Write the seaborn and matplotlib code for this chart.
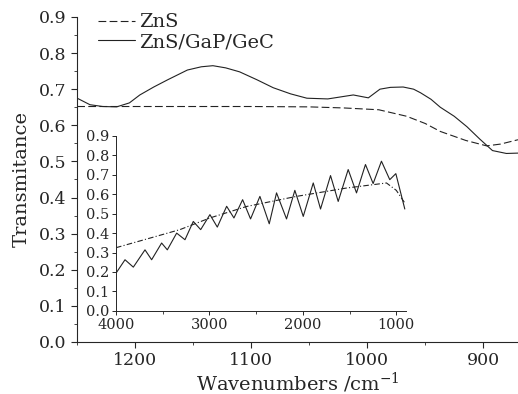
import numpy as np
import pandas as pd
import seaborn as sns
import matplotlib
matplotlib.use('Agg')
import matplotlib.pyplot as plt
from matplotlib.ticker import MultipleLocator, FormatStrFormatter

# main spectrum (narrow range)
zns_wn = [1250, 1200, 1150, 1100, 1050, 1020, 990, 966, 950, 937, 915, 897, 885, 870]
zns_t = [0.652, 0.652, 0.652, 0.652, 0.651, 0.648, 0.643, 0.625, 0.605, 0.583, 0.558, 0.543, 0.548, 0.560]

gec_wn = [1250, 1239, 1228, 1216, 1205, 1196, 1184, 1172, 1155, 1143, 1133, 1122, 1110, 1095,
          1081, 1066, 1052, 1034, 1024, 1012, 999, 989, 980, 969, 960, 954, 945, 937, 925,
          914, 903, 892, 880, 870]
gec_t = [0.675, 0.657, 0.652, 0.651, 0.662, 0.684, 0.706, 0.726, 0.753, 0.762, 0.765, 0.759,
         0.748, 0.726, 0.704, 0.687, 0.675, 0.673, 0.678, 0.684, 0.676, 0.700, 0.705, 0.706,
         0.700, 0.690, 0.672, 0.650, 0.625, 0.596, 0.562, 0.530, 0.522, 0.523]

# inset spectrum (wide range)
in_zns_wn = [4000, 3316, 2995, 2603, 2068, 1533, 1105, 1000, 909]
in_zns_t = [0.325, 0.418, 0.478, 0.537, 0.589, 0.632, 0.658, 0.620, 0.555]

in_gec_wn = [4000, 3904, 3815, 3690, 3619, 3512, 3451, 3351, 3262, 3173, 3094, 2995, 2916,
             2816, 2738, 2645, 2560, 2460, 2360, 2282, 2175, 2086, 1996, 1889, 1811, 1704,
             1622, 1515, 1426, 1330, 1248, 1159, 1070, 1005, 909]
in_gec_t = [0.194, 0.263, 0.225, 0.314, 0.263, 0.349, 0.314, 0.400, 0.366, 0.460, 0.418,
            0.495, 0.431, 0.538, 0.478, 0.572, 0.473, 0.589, 0.448, 0.607, 0.473, 0.620,
            0.486, 0.658, 0.524, 0.696, 0.563, 0.727, 0.607, 0.753, 0.655, 0.770, 0.675,
            0.706, 0.524]

sns.set_style('ticks')
plt.rcParams['font.family'] = ['DejaVu Serif']
plt.rcParams['mathtext.fontset'] = 'dejavuserif'

fig = plt.figure(figsize=(5.18, 3.94), dpi=100)
ax = fig.add_axes([0.149, 0.132, 0.851, 0.825])

lc = '#222222'
sns.lineplot(ax=ax, x=zns_wn, y=zns_t, color=lc, linewidth=0.8,
             label='ZnS', sort=False, estimator=None)
ax.lines[-1].set_dashes([7, 3])
sns.lineplot(ax=ax, x=gec_wn, y=gec_t, color=lc, linewidth=0.8,
             label='ZnS/GaP/GeC', sort=False, estimator=None)

ax.set_xlim(1250, 870)
ax.set_ylim(0, 0.9)
ax.xaxis.set_major_locator(MultipleLocator(100))
ax.xaxis.set_minor_locator(MultipleLocator(50))
ax.yaxis.set_major_locator(MultipleLocator(0.1))
ax.yaxis.set_minor_locator(MultipleLocator(0.05))
ax.yaxis.set_major_formatter(FormatStrFormatter('%.1f'))
ax.tick_params(axis='both', which='major', labelsize=12.5, length=4, width=0.8, direction='out')
ax.tick_params(axis='both', which='minor', length=2, width=0.6, direction='out')
ax.set_xlabel('Wavenumbers /cm$^{-1}$', fontsize=14, labelpad=1)
ax.set_ylabel('Transmitance', fontsize=14, labelpad=6)
for s in ['top', 'right']:
    ax.spines[s].set_visible(False)
for s in ['left', 'bottom']:
    ax.spines[s].set_linewidth(0.8)

leg = ax.legend(loc='upper left', bbox_to_anchor=(0.03, 1.035), frameon=False, fontsize=14,
                handlelength=1.9, handletextpad=0.2, labelspacing=0.1, borderaxespad=0)

# inset
ins = fig.add_axes([0.224, 0.211, 0.56, 0.444])
ins.patch.set_alpha(0)
sns.lineplot(ax=ins, x=in_zns_wn, y=in_zns_t, color=lc, linewidth=0.8,
             sort=False, estimator=None)
ins.lines[-1].set_dashes([5, 2, 1, 2])
sns.lineplot(ax=ins, x=in_gec_wn, y=in_gec_t, color=lc, linewidth=0.8,
             sort=False, estimator=None)
ins.set_xlim(4000, 895)
ins.set_ylim(0, 0.9)
ins.xaxis.set_major_locator(MultipleLocator(1000))
ins.xaxis.set_minor_locator(MultipleLocator(500))
ins.yaxis.set_major_locator(MultipleLocator(0.1))
ins.yaxis.set_major_formatter(FormatStrFormatter('%.1f'))
ins.tick_params(axis='both', which='major', labelsize=10.5, length=3, width=0.7, pad=2)
ins.tick_params(axis='both', which='minor', length=2, width=0.6)
for s in ['top', 'right']:
    ins.spines[s].set_visible(False)
for s in ['left', 'bottom']:
    ins.spines[s].set_linewidth(0.7)

fig.savefig('out.png', dpi=100)
